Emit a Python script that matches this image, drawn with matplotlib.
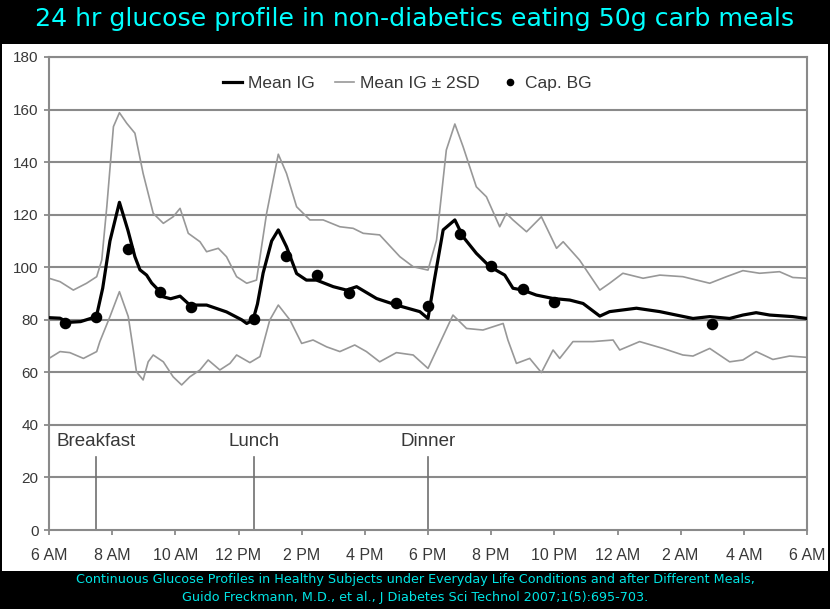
import matplotlib
matplotlib.use("Agg")
import matplotlib.pyplot as plt
from matplotlib.patches import Rectangle
from matplotlib.lines import Line2D

# hours after 6 AM
mean_h = [0, 0.35, 0.6, 1.0, 1.5, 1.7, 1.93, 2.23, 2.5, 2.72, 2.88, 3.09, 3.25, 3.41,
          3.6, 3.85, 4.15, 4.46, 4.99, 5.62, 6.1, 6.26, 6.46, 6.6, 6.78, 7.05, 7.26,
          7.52, 7.84, 8.15, 8.47, 9.0, 9.42, 9.74, 10.37, 11.0, 11.74, 11.9, 12.0,
          12.2, 12.48, 12.85, 13.11, 13.53, 13.96, 14.43, 14.69, 15.0, 15.43, 15.96,
          16.49, 16.91, 17.44, 17.75, 18.6, 19.34, 19.86, 20.39, 20.92, 21.55, 21.97,
          22.39, 22.82, 23.55, 24]
mean_ig = [80.8, 80.6, 79, 79.3, 81.2, 92, 110, 124.7, 114, 104, 99, 97, 94, 92,
           88.8, 88, 89, 85.6, 85.6, 83, 80, 78.6, 79.9, 86, 97.8, 110, 114.2,
           107.8, 97.6, 95.1, 95.1, 92.6, 91.3, 92.6, 88.1, 85.6, 83.1, 81.5, 80.5,
           95, 114.2, 118, 111.6, 105.3, 100.2, 97, 92, 91.3, 89.4, 88.1,
           87.5, 86.2, 81.4, 83.1, 84.4, 83.1, 81.8, 80.5, 81.2, 80.5, 81.8,
           82.7, 81.8, 81.2, 80.5]

upper_h = [0, 0.35, 0.77, 1.19, 1.51, 1.67, 1.83, 2.04, 2.23, 2.46, 2.72, 2.98, 3.3,
           3.62, 3.93, 4.15, 4.41, 4.78, 4.99, 5.36, 5.62, 5.94, 6.26, 6.57, 6.89,
           7.26, 7.52, 7.84, 8.26, 8.68, 9.21, 9.63, 9.95, 10.47, 11.11, 11.53, 12.0,
           12.27, 12.58, 12.85, 13.11, 13.53, 13.85, 14.27, 14.48, 14.69, 15.12, 15.59,
           16.07, 16.28, 16.8, 17.44, 17.75, 18.17, 18.81, 19.34, 20.07, 20.92, 21.45,
           21.97, 22.5, 23.13, 23.55, 24]
upper_ig = [95.8, 94.5, 91.3, 93.9, 96.4, 102.7, 123, 153.5, 158.8, 154.8, 151, 135.7, 120.5,
            116.7, 119.2, 122.4, 112.9, 109.7, 105.9, 107.2, 104, 96.4, 93.9, 95.1, 120.5,
            143, 135.7, 123, 118, 118, 115.4, 114.8, 112.9, 112.3, 104, 100.2, 98.9,
            110.3, 144.6, 154.5, 145.9, 130.6, 126.8, 115.4, 120.5, 118, 113.5, 119.2,
            107.2, 109.7, 102.7, 91.3, 93.9, 97.7, 95.8, 97, 96.4, 93.9, 96.4,
            98.7, 97.7, 98.3, 96.1, 95.8]

lower_h = [0, 0.35, 0.66, 1.09, 1.51, 1.61, 1.93, 2.23, 2.51, 2.67, 2.77, 2.98, 3.14,
           3.3, 3.62, 3.93, 4.2, 4.46, 4.78, 5.04, 5.41, 5.73, 5.94, 6.36, 6.68, 6.99,
           7.26, 7.63, 8.0, 8.36, 8.79, 9.21, 9.68, 10.05, 10.47, 11.0, 11.53, 12.0,
           12.37, 12.79, 13.22, 13.74, 14.38, 14.53, 14.8, 15.22, 15.59, 15.96, 16.17,
           16.59, 17.22, 17.86, 18.07, 18.7, 19.44, 20.07, 20.39, 20.92, 21.55, 21.97,
           22.39, 22.92, 23.45, 24]
lower_ig = [65.3, 67.9, 67.5, 65.3, 67.9, 71.7, 81.2, 90.7, 81.2, 68.5, 60.2, 57.1, 64,
            66.6, 64, 58.3, 55.2, 58.3, 60.9, 64.7, 60.9, 63.4, 66.6, 63.7, 66, 79.9,
            85.6, 79.9, 71, 72.3, 69.7, 67.9, 70.4, 67.9, 64, 67.5, 66.6, 61.5,
            71, 81.8, 76.7, 76.1, 78.6, 72.3, 63.4, 65.3, 59.9, 68.5, 65.3,
            71.7, 71.7, 72.3, 68.5, 71.7, 69.1, 66.6, 66.2, 69.1, 64, 64.7,
            67.9, 64.9, 66.2, 65.7]

cap_h = [0.5, 1.5, 2.5, 3.5, 4.5, 6.5, 7.5, 8.5, 9.5, 11.0, 12.0, 13.0, 14.0, 15.0, 16.0, 21.0]
cap_bg = [78.8, 81, 106.9, 90.6, 84.9, 80.3, 104.3, 97, 90.2, 86.4, 85.2, 112.6, 100.5,
          91.7, 86.8, 78.4]

meal_names = ["Breakfast", "Lunch", "Dinner"]
meal_h = [1.5, 6.5, 12.0]

tick_h = list(range(0, 25, 2))
tick_labels = ["6 AM", "8 AM", "10 AM", "12 PM", "2 PM", "4 PM", "6 PM",
               "8 PM", "10 PM", "12 AM", "2 AM", "4 AM", "6 AM"]

W, H = 830, 609
fig = plt.figure(figsize=(W / 100, H / 100), dpi=100, facecolor="black")

# white panel behind the chart
fig.patches.append(Rectangle((2 / W, 1 - 571 / H), 826 / W, 527 / H,
                             transform=fig.transFigure, facecolor="white",
                             edgecolor="none", zorder=0))

ax = fig.add_axes([49 / W, 1 - 530 / H, 758 / W, 473 / H])
ax.set_zorder(2)
ax.set_facecolor("white")
grid_c = "#8a8a8a"
txt_c = "#383838"
font = ["Liberation Sans", "DejaVu Sans"]

for v in range(20, 181, 20):
    ax.axhline(v, color=grid_c, lw=1.5, zorder=1)

ax.plot(upper_h, upper_ig, color="#989898", lw=1.2, zorder=2)
ax.plot(lower_h, lower_ig, color="#989898", lw=1.2, zorder=2)
ax.plot(mean_h, mean_ig, color="black", lw=2.3, zorder=3)
ax.plot(cap_h, cap_bg, "o", color="black", ms=7.3, zorder=4)

for name, h in zip(meal_names, meal_h):
    ax.plot([h, h], [0, 27.7], color="#707070", lw=1.2, zorder=2)
    ax.text(h, 33.6, name, ha="center", va="center", fontsize=13.5,
            color=txt_c, family=font)

ax.set_xlim(0, 24)
ax.set_ylim(0, 180)
ax.set_xticks(tick_h)
ax.set_xticklabels(tick_labels)
ax.set_yticks(range(0, 181, 20))
for s in ax.spines.values():
    s.set_color(grid_c)
    s.set_linewidth(1.5)
ax.tick_params(axis="both", colors=grid_c, length=3.6, width=1.3, labelcolor=txt_c)
ax.tick_params(axis="x", pad=9, labelsize=11.5)
ax.tick_params(axis="y", pad=4, labelsize=11)
for lab in ax.get_xticklabels() + ax.get_yticklabels():
    lab.set_family(font)

handles = [Line2D([], [], color="black", lw=2.3),
           Line2D([], [], color="#989898", lw=1.2),
           Line2D([], [], marker="o", ls="none", color="black", ms=4.5)]
leg = ax.legend(handles, ["Mean IG", "Mean IG \u00b1 2SD", "Cap. BG"], ncol=3,
                loc="center", bbox_to_anchor=(0.473, 0.945), frameon=False,
                handlelength=1.1, handletextpad=0.35, columnspacing=1.15,
                prop={"family": font, "size": 12.5})
for t in leg.get_texts():
    t.set_color(txt_c)

fig.text(0.5, 1 - 19 / H, "24 hr glucose profile in non-diabetics eating 50g carb meals",
         ha="center", va="center", color="#00ffff", fontsize=18.2, family="DejaVu Sans")
fig.text(0.5, 1 - 580 / H,
         "Continuous Glucose Profiles in Healthy Subjects under Everyday Life Conditions and after Different Meals,",
         ha="center", va="center", color="#00e5e5", fontsize=9.2, family="DejaVu Sans")
fig.text(0.5, 1 - 597 / H,
         "Guido Freckmann, M.D., et al., J Diabetes Sci Technol 2007;1(5):695-703.",
         ha="center", va="center", color="#00e5e5", fontsize=9.2, family="DejaVu Sans")

fig.savefig("out.png", dpi=100, facecolor="black")
